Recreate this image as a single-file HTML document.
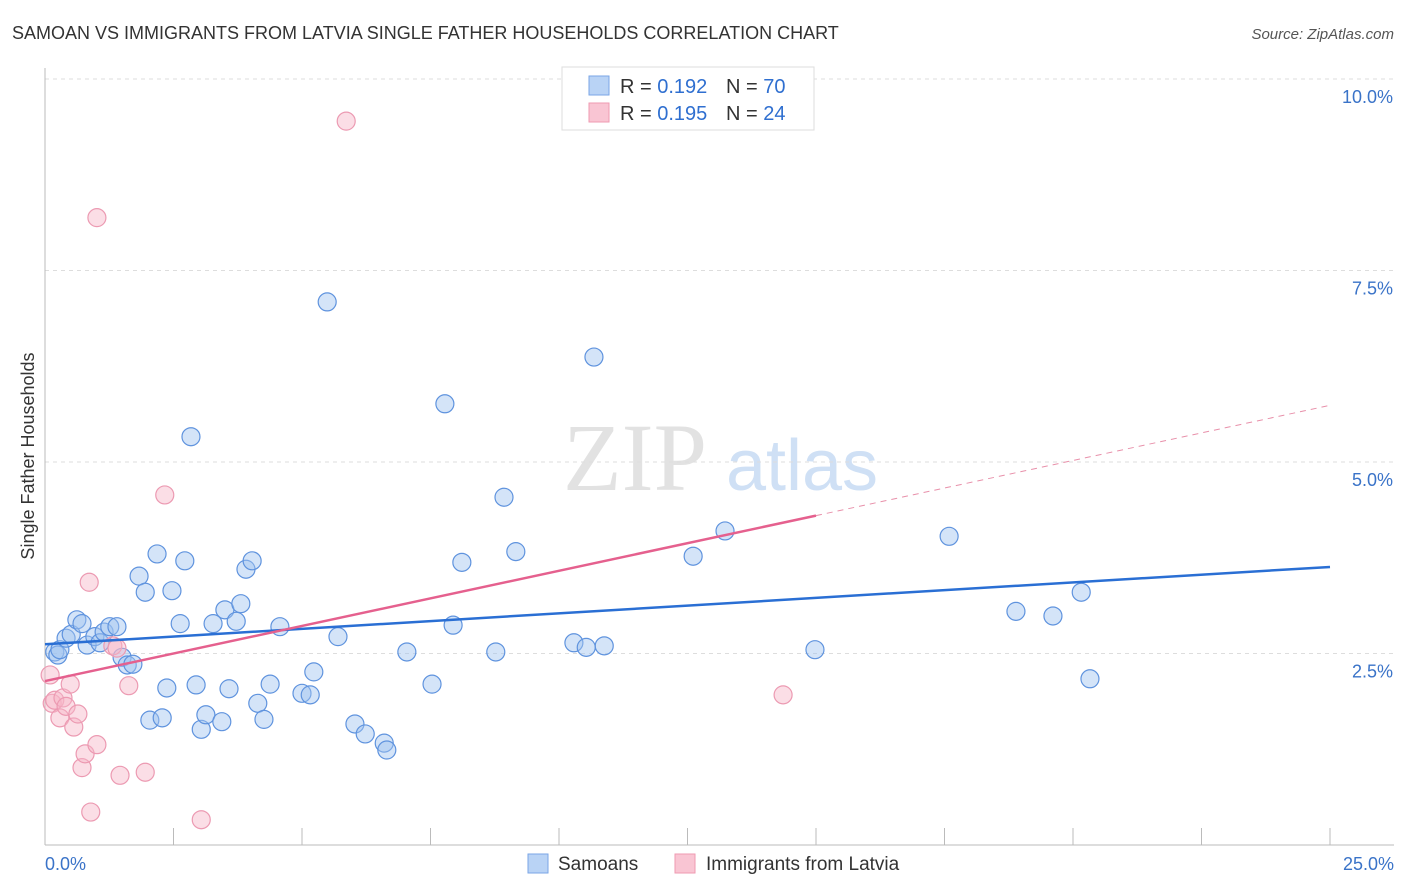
<!DOCTYPE html>
<html><head><meta charset="utf-8"><style>
body{margin:0;background:#fff;font-family:"Liberation Sans",sans-serif;}
svg{display:block}
</style></head><body>
<svg id="chart" width="1406" height="892" xmlns="http://www.w3.org/2000/svg">
<text x="12" y="39" font-size="18" fill="#333">SAMOAN VS IMMIGRANTS FROM LATVIA SINGLE FATHER HOUSEHOLDS CORRELATION CHART</text>
<text x="1394" y="39" font-size="15" fill="#555" font-style="italic" text-anchor="end">Source: ZipAtlas.com</text>
<g>
<text x="635" y="490" font-size="96" fill="#e2e2e2" font-family="Liberation Serif,serif" text-anchor="middle">ZIP</text>
<text x="802" y="490" font-size="72" fill="#cfe0f5" text-anchor="middle">atlas</text>
</g>
<g id="grid"></g>
<g id="axes"></g>
<g id="marks"></g>
<text transform="translate(34,456) rotate(-90)" font-size="18" fill="#333" text-anchor="middle">Single Father Households</text>
<g>
<rect x="562" y="67" width="252" height="63" fill="#fff" stroke="#ddd"/>
<rect x="589" y="76" width="20" height="19" fill="#b9d3f5" stroke="#7aa6e6"/>
<text x="620" y="93" font-size="20" fill="#333">R = <tspan fill="#2f6fd0">0.192</tspan></text>
<text x="726" y="93" font-size="20" fill="#333">N = <tspan fill="#2f6fd0">70</tspan></text>
<rect x="589" y="103" width="20" height="19" fill="#f9c5d3" stroke="#ef9ab2"/>
<text x="620" y="120" font-size="20" fill="#333">R = <tspan fill="#2f6fd0">0.195</tspan></text>
<text x="726" y="120" font-size="20" fill="#333">N = <tspan fill="#2f6fd0">24</tspan></text>
</g>
<g>
<rect x="528" y="854" width="20" height="19" fill="#b9d3f5" stroke="#7aa6e6"/>
<text x="558" y="870" font-size="19" fill="#333">Samoans</text>
<rect x="675" y="854" width="20" height="19" fill="#f9c5d3" stroke="#ef9ab2"/>
<text x="706" y="870" font-size="19" fill="#333">Immigrants from Latvia</text>
</g>
</svg>
<script>
const blueX=[0.19,0.25,0.29,0.41,0.51,0.62,0.72,0.82,0.97,1.07,1.15,1.26,1.40,1.50,1.60,1.71,1.83,1.95,2.04,2.18,2.28,2.37,2.47,2.63,2.72,2.84,2.94,3.04,3.13,3.27,3.44,3.50,3.58,3.72,3.81,3.91,4.03,4.14,4.26,4.38,4.57,5.00,5.16,5.23,5.49,5.70,6.03,6.23,6.60,6.65,7.04,7.53,7.78,7.94,8.11,8.77,8.93,9.16,10.29,10.53,10.68,10.88,12.61,13.23,14.98,17.59,18.89,19.61,20.16,20.33];
const blueY=[2.52,2.48,2.55,2.70,2.75,2.94,2.89,2.61,2.72,2.64,2.78,2.85,2.85,2.45,2.35,2.36,3.51,3.30,1.63,3.80,1.66,2.05,3.32,2.89,3.71,5.33,2.09,1.51,1.70,2.89,1.61,3.07,2.04,2.92,3.15,3.60,3.71,1.85,1.64,2.10,2.85,1.98,1.96,2.26,7.09,2.72,1.58,1.45,1.33,1.24,2.52,2.10,5.76,2.87,3.69,2.52,4.54,3.83,2.64,2.58,6.37,2.60,3.77,4.10,2.55,4.03,3.05,2.99,3.30,2.17];
const pinkX=[0.10,0.14,0.19,0.29,0.35,0.41,0.49,0.56,0.64,0.72,0.78,0.86,0.89,1.01,1.01,1.32,1.40,1.46,1.63,1.95,2.33,3.04,5.86,14.36];
const pinkY=[2.22,1.85,1.89,1.66,1.92,1.81,2.10,1.54,1.71,1.01,1.19,3.43,0.43,1.31,8.19,2.60,2.57,0.91,2.08,0.95,4.57,0.33,9.45,1.96];
const blueTrend=[2.62,3.63];
const pinkTrend=[2.14,5.74];
const pinkSolidEnd=15.0;
const yTicks=[2.5,5.0,7.5,10.0];
const xTickVals=[0,2.5,5,7.5,10,12.5,15,17.5,20,22.5,25];

const NS="http://www.w3.org/2000/svg";
const X0=45,X1=1330,YB=845,YT=79;
const sx=v=>X0+(v/25)*(X1-X0);
const sy=v=>YB-(v/10)*(YB-YT);
function mk(tag,attrs,parent){const e=document.createElementNS(NS,tag);for(const k in attrs)e.setAttribute(k,attrs[k]);parent.appendChild(e);return e;}
const grid=document.getElementById('grid'),axes=document.getElementById('axes'),marks=document.getElementById('marks');
yTicks.forEach(t=>{
  const l=mk('line',{x1:X0,x2:1394,y1:sy(t),y2:sy(t),stroke:'#ddd','stroke-dasharray':'4,4'},grid);
  
  
  const tx=mk('text',{x:1393,y:sy(t)+24,'font-size':18,fill:'#3a73c8','text-anchor':'end'},axes);
  tx.textContent=t.toFixed(1)+'%';
  
  
});
const ax=mk('line',{x1:X0,x2:X0,y1:68,y2:YB,stroke:'#bbb'},axes);


const bx=mk('line',{x1:X0,x2:1394,y1:YB,y2:YB,stroke:'#bbb'},axes);


xTickVals.forEach(t=>{
  const l=mk('line',{x1:sx(t),x2:sx(t),y1:YB,y2:YB-17,stroke:'#bbb'},axes);
  
  
});
[[0,'start',X0,'0.0%'],[25,'end',1394,'25.0%']].forEach(a=>{
  const tx=mk('text',{x:a[2],y:870,'font-size':18,fill:'#3a73c8','text-anchor':a[1]},axes);
  tx.textContent=a[3];
  
  
});
blueX.forEach((v,i)=>{
  const c=mk('circle',{cx:sx(v),cy:sy(blueY[i]),r:9,fill:'rgba(160,196,240,0.45)',stroke:'#5f93de','stroke-width':1.2},marks);
  
  
});
pinkX.forEach((v,i)=>{
  const c=mk('circle',{cx:sx(v),cy:sy(pinkY[i]),r:9,fill:'rgba(246,182,200,0.45)',stroke:'#ec9ab2','stroke-width':1.2},marks);
  
  
});
const bt=mk('line',{x1:sx(0),y1:sy(blueTrend[0]),x2:sx(25),y2:sy(blueTrend[1]),stroke:'#2a6fd4','stroke-width':2.5},marks);


const pAt=x=>pinkTrend[0]+(pinkTrend[1]-pinkTrend[0])*x/25;
const pt=mk('line',{x1:sx(0),y1:sy(pAt(0)),x2:sx(pinkSolidEnd),y2:sy(pAt(pinkSolidEnd)),stroke:'#e5608e','stroke-width':2.5},marks);


const pd=mk('line',{x1:sx(pinkSolidEnd),y1:sy(pAt(pinkSolidEnd)),x2:sx(25),y2:sy(pAt(25)),stroke:'#e890aa','stroke-width':1,'stroke-dasharray':'6,5'},marks);


</script>
</body></html>
